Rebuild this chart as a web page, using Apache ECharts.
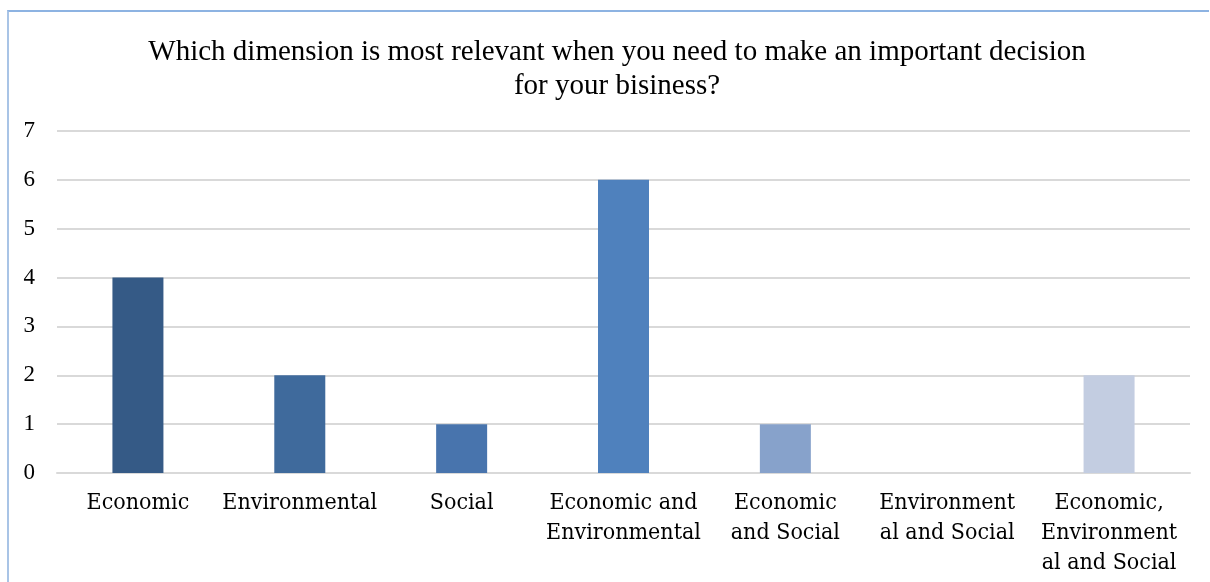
<!DOCTYPE html>
<html>
<head>
<meta charset="utf-8">
<script src="https://cdn.jsdelivr.net/npm/echarts@6/dist/echarts.min.js"></script>
<style>
  html, body { margin: 0; padding: 0; background: #fff; }
  #frame { position: absolute; left: 7px; top: 10px; width: 1202px; height: 580px;
           border-top: 2px solid #8DB3E2; border-left: 2px solid #A9C4E6; box-sizing: border-box; }
  #chart { position: absolute; left: 0; top: 0; width: 1210px; height: 582px; }
</style>
</head>
<body>
<div id="frame"></div>
<div id="chart"></div>
<script>
// Survey answers: which dimension matters most for an important business decision
const categories = [
  'Economic',
  'Environmental',
  'Social',
  'Economic and\nEnvironmental',
  'Economic\nand Social',
  'Environment\nal and Social',
  'Economic,\nEnvironment\nal and Social'
];
const counts = [4, 2, 1, 6, 1, 0, 2];
const barColors = ['#355A86', '#3F6A9C', '#4874AD', '#4F81BD', '#87A2CB', '#A9BAD8', '#C3CDE1'];
const yTicks = [0, 1, 2, 3, 4, 5, 6, 7];

const chart = echarts.init(document.getElementById('chart'), null, { renderer: 'canvas' });
chart.setOption({
  animation: false,
  backgroundColor: 'transparent',
  title: {
    text: 'Which dimension is most relevant when you need to make an important decision\nfor your bisiness?',
    left: 612,
    textAlign: 'center',
    top: 30,
    textStyle: {
      fontFamily: 'Liberation Serif',
      fontWeight: 'normal',
      fontSize: 29,
      color: '#000',
      lineHeight: 34
    }
  },
  grid: { left: 57, right: 20, top: 131, bottom: 109, containLabel: false },
  xAxis: {
    type: 'category',
    data: categories,
    axisLine: { show: true, lineStyle: { color: '#D9D9D9', width: 2 } },
    axisTick: { show: false },
    axisLabel: {
      interval: 0,
      margin: 15,
      fontFamily: '"DejaVu Serif Condensed", "DejaVu Serif"',
      fontSize: 23,
      lineHeight: 30,
      color: '#000'
    }
  },
  yAxis: {
    type: 'value',
    min: yTicks[0],
    max: yTicks[yTicks.length - 1],
    interval: 1,
    axisLine: { show: false },
    axisTick: { show: false },
    splitLine: { lineStyle: { color: '#D9D9D9', width: 2 } },
    axisLabel: {
      margin: 22,
      fontFamily: 'Liberation Serif',
      fontSize: 23,
      color: '#000'
    }
  },
  series: [{
    type: 'bar',
    data: counts.map((v, i) => ({ value: v, itemStyle: { color: barColors[i] } })),
    barWidth: 51
  }]
});
</script>
</body>
</html>
